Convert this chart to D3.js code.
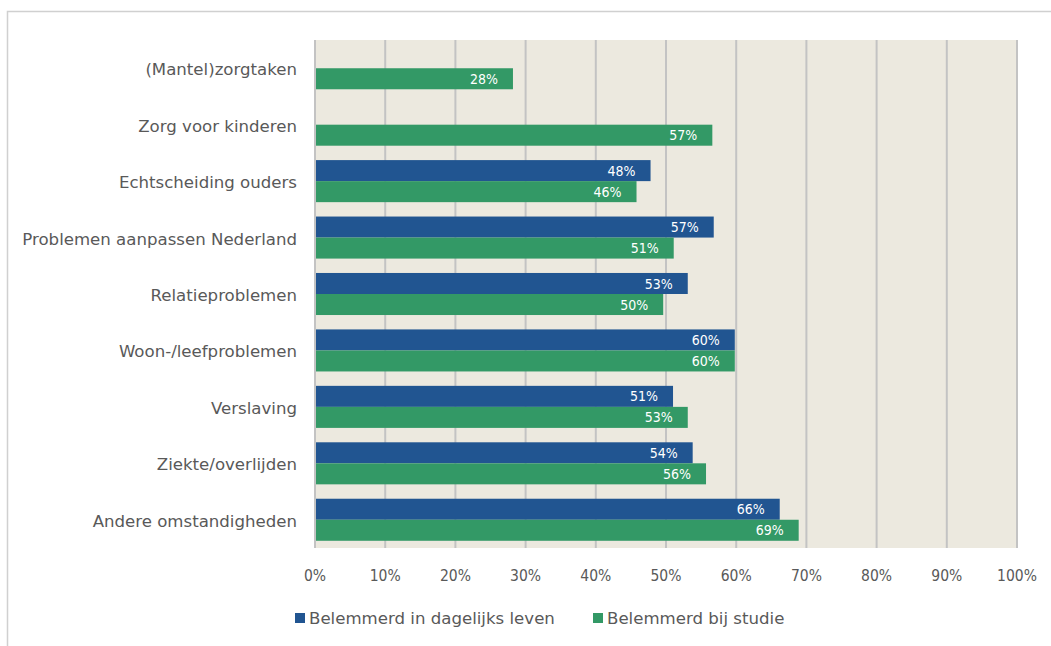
<!DOCTYPE html>
<html>
<head>
<meta charset="utf-8">
<script src="https://cdn.jsdelivr.net/npm/d3@7"></script>
<style>
  body { margin: 0; background: #fff; }
  svg { display: block; font-family: "DejaVu Sans", sans-serif; }
  .cat-label { fill: #595959; font-size: 16.6px; }
  .tick-label { fill: #595959; font-size: 15.5px; font-family: "DejaVu Sans Condensed", "DejaVu Sans", sans-serif; }
  .value-label { fill: #fff; font-size: 14px; font-family: "DejaVu Sans Condensed", "DejaVu Sans", sans-serif; }
  .legend-label { fill: #595959; font-size: 16.6px; }
</style>
</head>
<body>
<svg width="1051" height="646"></svg>
<script>
// data
var categories = ['(Mantel)zorgtaken', 'Zorg voor kinderen', 'Echtscheiding ouders',
  'Problemen aanpassen Nederland', 'Relatieproblemen', 'Woon-/leefproblemen',
  'Verslaving', 'Ziekte/overlijden', 'Andere omstandigheden'];
var seriesNames = ['Belemmerd in dagelijks leven', 'Belemmerd bij studie'];
var dagelijks = [null, null, 47.8, 56.8, 53.1, 59.8, 51.0, 53.8, 66.2];
var studie = [28.2, 56.6, 45.8, 51.1, 49.6, 59.8, 53.1, 55.7, 68.9];
var ticks = [0, 10, 20, 30, 40, 50, 60, 70, 80, 90, 100];
var colors = ['#215591', '#339966'];

var svg = d3.select('svg');

// outer frame (cut off at right/bottom like the original)
svg.append('rect')
  .attr('x', 7.5).attr('y', 11.5)
  .attr('width', 1100).attr('height', 700)
  .attr('fill', 'none')
  .attr('stroke', '#d0d0d0')
  .attr('stroke-width', 1.5);

var plot = {l: 315, r: 1017, t: 40, b: 548};

var xScale = d3.scaleLinear().domain([0, 100]).range([plot.l, plot.r]);
var yScale = d3.scaleBand().domain(categories).range([plot.t, plot.b]).paddingInner(0.255).paddingOuter(0.128);
var subScale = d3.scaleBand().domain([0, 1]).range([0, yScale.bandwidth()]);

// background
svg.append('rect')
  .attr('x', plot.l).attr('y', plot.t)
  .attr('width', plot.r - plot.l).attr('height', plot.b - plot.t)
  .attr('fill', '#ece9df');

// vertical gridlines
svg.selectAll('.grid')
  .data(ticks)
  .enter()
  .append('line')
  .attr('class', 'grid')
  .attr('x1', d => xScale(d)).attr('x2', d => xScale(d))
  .attr('y1', plot.t).attr('y2', plot.b)
  .attr('stroke', '#c3c3c3')
  .attr('stroke-width', 2);

// bars
var series = [dagelijks, studie];
series.forEach(function(vals, s) {
  var rows = categories.map((c, i) => ({cat: c, v: vals[i]})).filter(d => d.v != null);
  var g = svg.append('g');
  g.selectAll('rect')
    .data(rows)
    .enter()
    .append('rect')
    .attr('x', xScale(0) + 1)
    .attr('y', d => yScale(d.cat) + subScale(s))
    .attr('width', d => xScale(d.v) - xScale(0) - 1)
    .attr('height', subScale.bandwidth())
    .attr('fill', colors[s]);
  g.selectAll('text')
    .data(rows)
    .enter()
    .append('text')
    .attr('class', 'value-label')
    .attr('x', d => xScale(d.v) - 15)
    .attr('y', d => yScale(d.cat) + subScale(s) + subScale.bandwidth() / 2)
    .attr('dy', '0.36em')
    .attr('text-anchor', 'end')
    .text(d => Math.round(d.v) + '%');
});

// category labels
svg.selectAll('.cat-label')
  .data(categories)
  .enter()
  .append('text')
  .attr('class', 'cat-label')
  .attr('x', 297)
  .attr('y', d => yScale(d) + yScale.bandwidth() / 2 + 1)
  .attr('dy', '0.36em')
  .attr('text-anchor', 'end')
  .text(d => d);

// x tick labels
svg.selectAll('.tick-label')
  .data(ticks)
  .enter()
  .append('text')
  .attr('class', 'tick-label')
  .attr('x', d => xScale(d))
  .attr('y', 575)
  .attr('dy', '0.36em')
  .attr('text-anchor', 'middle')
  .text(d => d + '%');

// legend
var legendX = [295, 593];
seriesNames.forEach(function(name, i) {
  svg.append('rect')
    .attr('x', legendX[i]).attr('y', 613)
    .attr('width', 10).attr('height', 10)
    .attr('fill', colors[i]);
  svg.append('text')
    .attr('class', 'legend-label')
    .attr('x', legendX[i] + 14)
    .attr('y', 618)
    .attr('dy', '0.36em')
    .text(name);
});
</script>
</body>
</html>
